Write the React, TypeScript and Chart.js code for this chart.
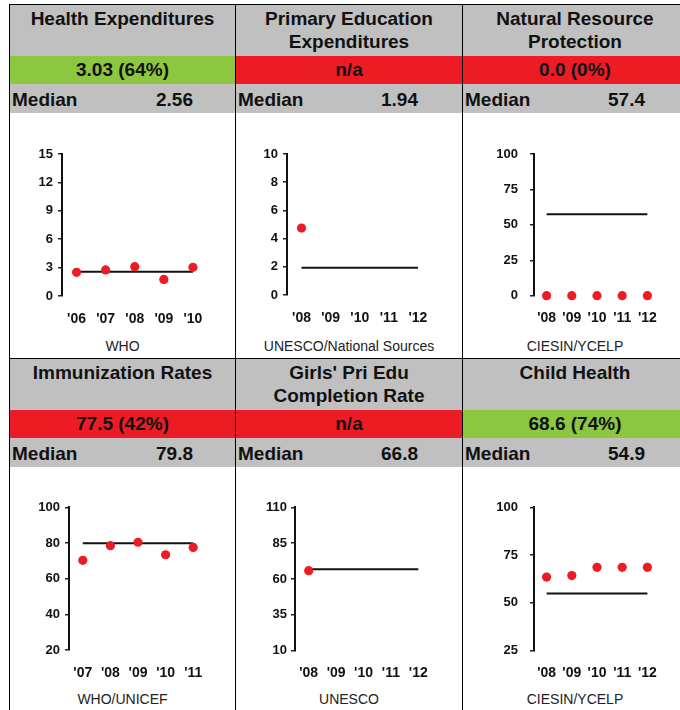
import React, { useEffect, useRef } from "react";
import { Chart, registerables } from "chart.js";

Chart.register(...registerables);

// ---------- data ----------
const healthYears = ["'06", "'07", "'08", "'09", "'10"];
const healthValues = [2.5, 2.75, 3.1, 1.75, 3.03];
const healthMedian = 2.56;
const healthTicks = [0, 3, 6, 9, 12, 15];

const eduYears = ["'08", "'09", "'10", "'11", "'12"];
const eduValues = [4.75, null, null, null, null];
const eduMedian = 1.94;
const eduTicks = [0, 2, 4, 6, 8, 10];

const natYears = ["'08", "'09", "'10", "'11", "'12"];
const natValues = [0, 0, 0, 0, 0];
const natMedian = 57.4;
const natTicks = [0, 25, 50, 75, 100];

const immYears = ["'07", "'08", "'09", "'10", "'11"];
const immValues = [70.3, 78.5, 80.4, 73.4, 77.5];
const immMedian = 79.8;
const immTicks = [20, 40, 60, 80, 100];

const girlsYears = ["'08", "'09", "'10", "'11", "'12"];
const girlsValues = [65.8, null, null, null, null];
const girlsMedian = 66.8;
const girlsTicks = [10, 35, 60, 85, 110];

const childYears = ["'08", "'09", "'10", "'11", "'12"];
const childValues = [63.5, 64.3, 68.6, 68.6, 68.6];
const childMedian = 54.9;
const childTicks = [25, 50, 75, 100];

const titles = [
  "Health Expenditures",
  "Primary Education Expenditures",
  "Natural Resource Protection",
  "Immunization Rates",
  "Girls' Pri Edu Completion Rate",
  "Child Health",
];
const statusTexts = ["3.03 (64%)", "n/a", "0.0 (0%)", "77.5 (42%)", "n/a", "68.6 (74%)"];
const statusGood = [true, false, false, false, false, true];
const sources = ["WHO", "UNESCO/National Sources", "CIESIN/YCELP", "WHO/UNICEF", "UNESCO", "CIESIN/YCELP"];

// ---------- styles ----------
const FONT = "'Liberation Sans', Arial, Helvetica, sans-serif";
const GRAY = "#C0C0C0";
const GREEN = "#8DC63F";
const RED = "#ED1C24";
const INK = "#111111";

const panels = [
  { labels: healthYears, values: healthValues, median: healthMedian, ticks: healthTicks },
  { labels: eduYears, values: eduValues, median: eduMedian, ticks: eduTicks },
  { labels: natYears, values: natValues, median: natMedian, ticks: natTicks },
  { labels: immYears, values: immValues, median: immMedian, ticks: immTicks },
  { labels: girlsYears, values: girlsValues, median: girlsMedian, ticks: girlsTicks },
  { labels: childYears, values: childValues, median: childMedian, ticks: childTicks },
];

// layout
const colLeft = [10, 236, 463];
const colWidth = [225, 226, 224];
const rowTop = [5, 359];
const CANVAS_W = 224;
const CANVAS_H = 220;
const XAXIS_H = 30;

// per-panel frame: y axis width, paddings, label padding
const frames = [
  { yWidth: 52, top: 40, right: 26.5, bottom: 8, tickPad: 5 },
  { yWidth: 51, top: 40, right: 27.5, bottom: 9, tickPad: 5 },
  { yWidth: 71, top: 40, right: 27, bottom: 8.3, tickPad: 12 },
  { yWidth: 59, top: 39.3, right: 27, bottom: 8, tickPad: 5 },
  { yWidth: 59, top: 39.3, right: 28, bottom: 7.3, tickPad: 4 },
  { yWidth: 71, top: 39.3, right: 27, bottom: 7.3, tickPad: 12 },
];

function MiniChart({ idx, left, top }: { idx: number; left: number; top: number }) {
  const ref = useRef<HTMLCanvasElement>(null);
  useEffect(() => {
    const p = panels[idx];
    const f = frames[idx];
    const chart = new Chart(ref.current as HTMLCanvasElement, {
      type: "line",
      data: {
        labels: p.labels,
        datasets: [
          {
            data: p.values as any,
            showLine: false,
            pointRadius: 4.6,
            pointHoverRadius: 4.6,
            pointBackgroundColor: RED,
            pointBorderColor: RED,
            pointBorderWidth: 0,
            clip: false as any,
            order: 0,
          },
          {
            data: p.labels.map(() => p.median),
            borderColor: INK,
            borderWidth: 2,
            pointRadius: 0,
            pointHoverRadius: 0,
            clip: false as any,
            order: 1,
          },
        ],
      },
      options: {
        animation: false,
        responsive: false,
        events: [],
        plugins: { legend: { display: false }, tooltip: { enabled: false } },
        layout: { padding: { left: 0, top: f.top, right: f.right, bottom: f.bottom } },
        scales: {
          x: {
            type: "category",
            offset: true,
            grid: { display: false, drawTicks: false },
            border: { display: false },
            ticks: {
              autoSkip: false,
              maxRotation: 0,
              minRotation: 0,
              padding: 14.5,
              color: INK,
              font: { family: FONT, size: 14, weight: "bold" },
            },
            afterFit: (s: any) => {
              s.height = XAXIS_H;
            },
          },
          y: {
            type: "linear",
            min: p.ticks[0],
            max: p.ticks[p.ticks.length - 1],
            grid: { display: true, drawOnChartArea: false, drawTicks: true, tickLength: 4, color: "#222", lineWidth: 1.5 },
            border: { display: true, color: INK, width: 2 },
            ticks: {
              padding: f.tickPad,
              color: INK,
              font: { family: FONT, size: 13, weight: "bold" },
            },
            afterBuildTicks: (s: any) => {
              s.ticks = p.ticks.map((v) => ({ value: v }));
            },
            afterFit: (s: any) => {
              s.width = f.yWidth;
            },
          },
        },
      },
    } as any);
    return () => chart.destroy();
  }, [idx]);
  return (
    <canvas
      ref={ref}
      width={CANVAS_W}
      height={CANVAS_H}
      style={{ position: "absolute", left, top, width: CANVAS_W, height: CANVAS_H }}
    />
  );
}

function Panel({ idx }: { idx: number }) {
  const c = idx % 3;
  const r = Math.floor(idx / 3);
  const left = colLeft[c];
  const width = colWidth[c];
  const top = rowTop[r];
  const bold = { fontFamily: FONT, fontWeight: 700, fontSize: 19, color: INK } as React.CSSProperties;
  return (
    <>
      <div
        style={{
          ...bold,
          position: "absolute",
          left,
          top,
          width,
          height: 51,
          background: GRAY,
          textAlign: "center",
          lineHeight: "23px",
          paddingTop: 2,
          boxSizing: "border-box",
        }}
      >
        {titles[idx]}
      </div>
      <div
        style={{
          ...bold,
          position: "absolute",
          left,
          top: top + 51,
          width,
          height: 28,
          background: statusGood[idx] ? GREEN : RED,
          textAlign: "center",
          lineHeight: "28px",
        }}
      >
        {statusTexts[idx]}
      </div>
      <div
        style={{
          ...bold,
          position: "absolute",
          left,
          top: top + 79,
          width,
          height: 29,
          background: GRAY,
          lineHeight: "29px",
          paddingTop: 1,
          boxSizing: "border-box",
        }}
      >
        <span style={{ position: "absolute", left: 2, top: 1 }}>Median</span>
        <span style={{ position: "absolute", left: 0, width: c === 0 ? 183 : 182, textAlign: "right", top: 1 }}>
          {panels[idx].median}
        </span>
      </div>
      <MiniChart idx={idx} left={left} top={top + 109} />
      <div
        style={{
          position: "absolute",
          left,
          width,
          top: r === 0 ? 337 : 690,
          height: 18,
          lineHeight: "18px",
          textAlign: "center",
          fontFamily: FONT,
          fontSize: 14,
          color: "#222",
        }}
      >
        {sources[idx]}
      </div>
    </>
  );
}

export default function App() {
  const line = (style: React.CSSProperties) => (
    <div style={{ position: "absolute", background: "#000", ...style }} />
  );
  return (
    <div
      style={{
        position: "absolute",
        left: 0,
        top: 0,
        width: 680,
        height: 710,
        overflow: "hidden",
        background: "#fff",
      }}
    >
      {[0, 1, 2, 3, 4, 5].map((i) => (
        <Panel key={i} idx={i} />
      ))}
      {line({ left: 9, top: 4, width: 671, height: 1 })}
      {line({ left: 9, top: 358, width: 671, height: 1 })}
      {line({ left: 9, top: 4, width: 1, height: 706 })}
      {line({ left: 235, top: 4, width: 1, height: 706 })}
      {line({ left: 462, top: 4, width: 1, height: 706 })}
    </div>
  );
}
